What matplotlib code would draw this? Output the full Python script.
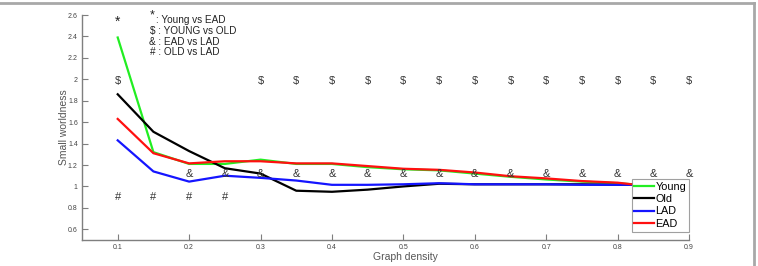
import matplotlib
matplotlib.use("Agg")
import matplotlib.pyplot as plt
from matplotlib.lines import Line2D

density = [0.10, 0.15, 0.20, 0.25, 0.30, 0.35, 0.40, 0.45, 0.50, 0.55, 0.60, 0.65, 0.70, 0.75, 0.80, 0.82]
young = [2.39, 1.32, 1.21, 1.21, 1.25, 1.21, 1.21, 1.18, 1.16, 1.15, 1.12, 1.09, 1.065, 1.045, 1.03, 1.02]
old   = [1.86, 1.51, 1.33, 1.17, 1.12, 0.96, 0.95, 0.97, 1.00, 1.025, 1.02, 1.02, 1.02, 1.02, 1.015, 1.015]
lad   = [1.43, 1.14, 1.045, 1.10, 1.08, 1.055, 1.015, 1.015, 1.02, 1.03, 1.02, 1.02, 1.02, 1.015, 1.015, 1.015]
ead   = [1.63, 1.31, 1.215, 1.235, 1.235, 1.215, 1.215, 1.19, 1.165, 1.155, 1.13, 1.095, 1.075, 1.05, 1.035, 1.02]

star_x = [0.10]
star_y = 2.54
dollar_x = [0.10, 0.30, 0.35, 0.40, 0.45, 0.50, 0.55, 0.60, 0.65, 0.70, 0.75, 0.80, 0.85, 0.90]
dollar_y = 1.98
amp_x = [0.20, 0.25, 0.30, 0.35, 0.40, 0.45, 0.50, 0.55, 0.60, 0.65, 0.70, 0.75, 0.80, 0.85, 0.90]
amp_y = 1.12
hash_x = [0.10, 0.15, 0.20, 0.25]
hash_y = 0.90

xticks = [0.1, 0.2, 0.3, 0.4, 0.5, 0.6, 0.7, 0.8, 0.9]
xticklabels = ["0.1", "0.2", "0.3", "0.4", "0.5", "0.6", "0.7", "0.8", "0.9"]
yticks = [0.6, 0.8, 1.0, 1.2, 1.4, 1.6, 1.8, 2.0, 2.2, 2.4, 2.6]
yticklabels = ["0.6", "0.8", "1", "1.2", "1.4", "1.6", "1.8", "2", "2.2", "2.4", "2.6"]

plt.rcParams['font.family'] = ['Liberation Sans', 'DejaVu Sans']

fig = plt.figure(figsize=(7.58, 2.66), dpi=100)
ax = fig.add_axes([82/758, 1 - 240/266, (689 - 82)/758, (240 - 15)/266])

axis_gray = '#7f7f7f'
ax.plot(density, young, color='#22ee22', lw=1.6, label='Young')
ax.plot(density, old, color='black', lw=1.6, label='Old')
ax.plot(density, lad, color='#1515ff', lw=1.6, label='LAD')
ax.plot(density, ead, color='#ff1010', lw=1.6, label='EAD')

sym_kw = dict(ha='center', va='center', fontsize=8, color='#333333')
for x in star_x:
    ax.text(x, star_y, '*', ha='center', va='center', fontsize=10, color='#222222')
for x in dollar_x:
    ax.text(x, dollar_y, '$', **sym_kw)
for x in amp_x:
    ax.text(x, amp_y, '&', **sym_kw)
for x in hash_x:
    ax.text(x, hash_y, '#', **sym_kw)

# annotation key
key_kw = dict(fontsize=7.2, color='#222222', va='center', ha='left', transform=fig.transFigure)
def fx(px):
    return px / 758
def fy(py):
    return 1 - py / 266
fig.text(fx(150), fy(15), '*', fontsize=9, color='#222222', va='center', ha='left')
fig.text(fx(156), fy(20), ': Young vs EAD', **key_kw)
fig.text(fx(150), fy(31), '$ : YOUNG vs OLD', **key_kw)
fig.text(fx(149), fy(42), '& : EAD vs LAD', **key_kw)
fig.text(fx(150), fy(52), '# : OLD vs LAD', **key_kw)

ax.set_xlim(0.05, 0.9)
ax.set_ylim(0.5, 2.6)
ax.set_xticks(xticks)
ax.set_xticklabels(xticklabels)
ax.set_yticks(yticks)
ax.set_yticklabels(yticklabels)
ax.spines['top'].set_visible(False)
ax.spines['right'].set_visible(False)
for s in ['left', 'bottom']:
    ax.spines[s].set_color(axis_gray)
    ax.spines[s].set_linewidth(1.0)
ax.tick_params(direction='in', length=4, width=0.8, color=axis_gray,
               labelsize=5, labelcolor='#444444', pad=3)

ax.set_xlabel('Graph density', fontsize=7.5, color='#555555')
ax.xaxis.set_label_coords((405 - 82) / 607, -0.055)
ax.set_ylabel('Small worldness', fontsize=7.5, color='#555555')
ax.yaxis.set_label_coords(-0.022, 0.5)

leg = ax.legend(loc='upper right', bbox_to_anchor=(1.0, (240 - 179) / 225),
                fontsize=7.8, frameon=True, fancybox=False, handlelength=1.8,
                handletextpad=0.15, borderpad=0.25, labelspacing=0.22,
                borderaxespad=0.0)
leg.get_frame().set_edgecolor('#888888')
leg.get_frame().set_linewidth(0.8)

# figure frame (top and right)
fig.add_artist(Line2D([0, 754/758], [1 - 3/266, 1 - 3/266], transform=fig.transFigure,
                      color='#a8a8a8', lw=2))
fig.add_artist(Line2D([754/758, 754/758], [1 - 3/266, 0], transform=fig.transFigure,
                      color='#a8a8a8', lw=2))

fig.savefig('out.png', dpi=100)
